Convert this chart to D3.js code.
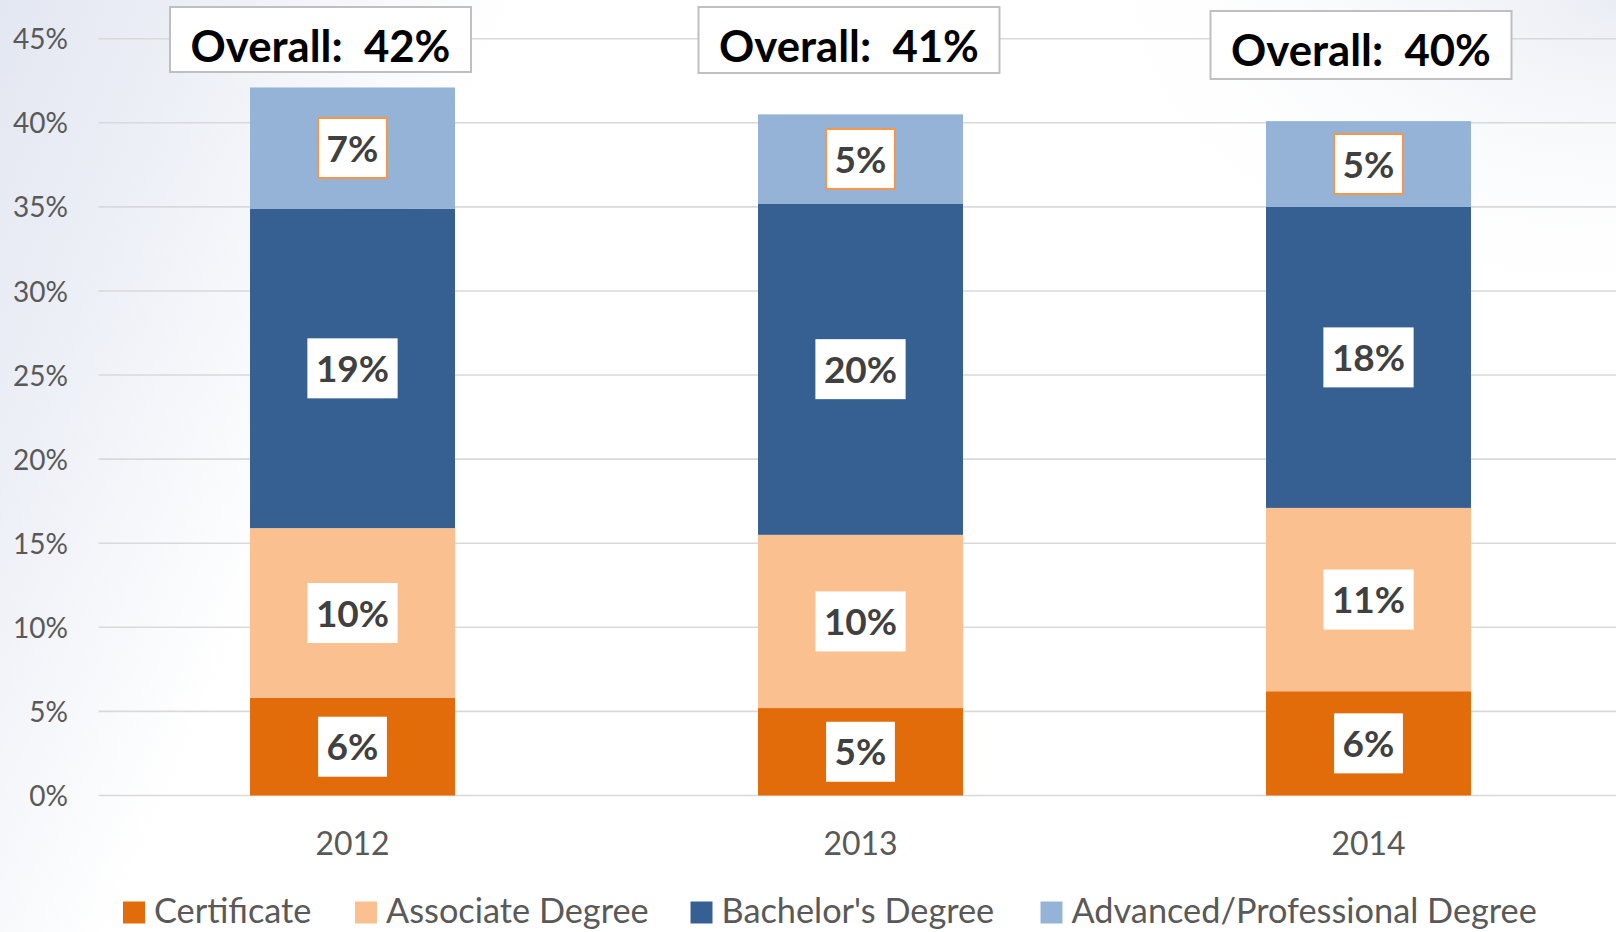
<!DOCTYPE html>
<html>
<head>
<meta charset="utf-8">
<script src="https://cdn.jsdelivr.net/npm/d3@7"></script>
<style>
  html, body { margin: 0; padding: 0; background: #ffffff; }
  svg { display: block; }
</style>
</head>
<body>
<svg id="chart" width="1616" height="932"></svg>
<script>
// ---------------- data ----------------
const years = ["2012", "2013", "2014"];
const seriesNames = ["Certificate", "Associate Degree", "Bachelor's Degree", "Advanced/Professional Degree"];
const certificate = [5.8, 5.2, 6.2];
const associate   = [10.1, 10.3, 10.9];
const bachelor    = [19.0, 19.7, 17.9];
const advanced    = [7.2, 5.3, 5.1];
const overall     = [42, 41, 40];
const yTicks      = [0, 5, 10, 15, 20, 25, 30, 35, 40, 45];

// ---------------- style / layout ----------------
const W = 1616, H = 932;
const colors = ["#E36C0A", "#FAC090", "#366092", "#95B3D7"];
const FONT = "Lato, 'Open Sans', sans-serif";
const svg = d3.select("#chart");

// background wash (faint texture approximated by gradients)
const defs = svg.append("defs");
const lg = defs.append("linearGradient").attr("id", "bgL").attr("x1", "0").attr("x2", "1").attr("y1", "0").attr("y2", "0.25");
lg.append("stop").attr("offset", "0").attr("stop-color", "#e3e7f1");
lg.append("stop").attr("offset", "0.12").attr("stop-color", "#eceff6");
lg.append("stop").attr("offset", "0.3").attr("stop-color", "#ffffff");
lg.append("stop").attr("offset", "1").attr("stop-color", "#ffffff");
svg.append("rect").attr("width", W).attr("height", H).attr("fill", "url(#bgL)");
const rg = defs.append("radialGradient").attr("id", "bgR").attr("cx", "1").attr("cy", "0").attr("r", "0.35");
rg.append("stop").attr("offset", "0").attr("stop-color", "#e8ebf3").attr("stop-opacity", 0.9);
rg.append("stop").attr("offset", "1").attr("stop-color", "#ffffff").attr("stop-opacity", 0);
svg.append("rect").attr("width", W).attr("height", H).attr("fill", "url(#bgR)");

const plotLeft = 98.5, plotRight = 1622.5;
const y0 = 795.5, yTop45 = 38.7;

const x = d3.scaleBand().domain(years).range([plotLeft, plotRight]).paddingInner(0.5965).paddingOuter(0.5965 / 2);
const y = d3.scaleLinear().domain([0, 45]).range([y0, yTop45]);

// gridlines
const grid = svg.append("g");
grid.selectAll("line").data(yTicks).join("line")
  .attr("x1", plotLeft).attr("x2", W)
  .attr("y1", d => y(d)).attr("y2", d => y(d))
  .attr("stroke", "#d9d9d9").attr("stroke-width", 1.6);

// y axis (labels only)
const yAxis = d3.axisLeft(y).tickValues(yTicks).tickFormat(d => d + "%").tickSize(0).tickPadding(0);
const gy = svg.append("g").attr("transform", "translate(68,0)").call(yAxis);
gy.select(".domain").remove();
gy.selectAll("text").attr("font-family", FONT).attr("font-size", 28).attr("fill", "#595959").attr("dy", "0.36em");

// x axis (labels only)
const xAxis = d3.axisBottom(x).tickSize(0).tickPadding(0);
const gx = svg.append("g").attr("transform", "translate(0,855)").call(xAxis);
gx.select(".domain").remove();
gx.selectAll("text").attr("font-family", FONT).attr("font-size", 32).attr("fill", "#595959").attr("dy", 0);

// stacked data
const rows = years.map((yr, i) => ({
  year: yr,
  "Certificate": certificate[i],
  "Associate Degree": associate[i],
  "Bachelor's Degree": bachelor[i],
  "Advanced/Professional Degree": advanced[i]
}));
const stack = d3.stack().keys(seriesNames);
const stacked = stack(rows);

const barsG = svg.append("g");
stacked.forEach((layer, li) => {
  barsG.append("g").attr("fill", colors[li])
    .selectAll("rect").data(layer).join("rect")
    .attr("x", d => x(d.data.year))
    .attr("width", x.bandwidth())
    .attr("y", d => y(d[1]))
    .attr("height", d => y(d[0]) - y(d[1]));
});

// segment labels
const labG = svg.append("g");
stacked.forEach((layer, li) => {
  layer.forEach(d => {
    const cx = x(d.data.year) + x.bandwidth() / 2;
    const cy = (y(d[0]) + y(d[1])) / 2;
    const g = labG.append("g");
    const box = g.append("rect").attr("fill", "#ffffff");
    const t = g.append("text")
      .attr("x", cx).attr("y", cy).attr("dy", "0.37em")
      .attr("text-anchor", "middle")
      .attr("font-family", FONT).attr("font-weight", 700).attr("font-size", 37)
      .attr("fill", "#404040")
      .text(Math.round(d[1] - d[0]) + "%");
    const tw = t.node().getComputedTextLength();
    const bw = tw + 17, bh = 60;
    box.attr("x", cx - bw / 2).attr("y", cy - bh / 2).attr("width", bw).attr("height", bh);
    if (li === 3) box.attr("stroke", "#F79646").attr("stroke-width", 2);
  });
});

// overall annotation boxes
const overallOffsets = [{dx: -32, top: 7, h: 65}, {dx: -11.5, top: 7, h: 66}, {dx: -7.5, top: 11, h: 68}];
const ovG = svg.append("g");
years.forEach((yr, i) => {
  const o = overallOffsets[i];
  const cx = x(yr) + x.bandwidth() / 2 + o.dx;
  const bw = 301;
  ovG.append("rect")
    .attr("x", cx - bw / 2).attr("y", o.top).attr("width", bw).attr("height", o.h)
    .attr("fill", "#ffffff").attr("stroke", "#bfbfbf").attr("stroke-width", 2);
  ovG.append("text")
    .attr("x", cx).attr("y", o.top + 55)
    .attr("text-anchor", "middle")
    .attr("font-family", FONT).attr("font-weight", 700).attr("font-size", 43.7)
    .attr("fill", "#000000")
    .attr("xml:space", "preserve")
    .style("white-space", "pre")
    .text("Overall:  " + overall[i] + "%");
});

// legend
const legendX = [123, 355, 690.5, 1040.5];
const lgG = svg.append("g");
seriesNames.forEach((name, i) => {
  const g = lgG.append("g").attr("transform", `translate(${legendX[i]},0)`);
  g.append("rect").attr("x", 0).attr("y", 901.5).attr("width", 22).attr("height", 22).attr("fill", colors[i]);
  g.append("text").attr("x", 31).attr("y", 923).attr("font-family", FONT).attr("font-size", 34.3)
    .attr("fill", "#595959").text(name);
});
</script>
</body>
</html>
